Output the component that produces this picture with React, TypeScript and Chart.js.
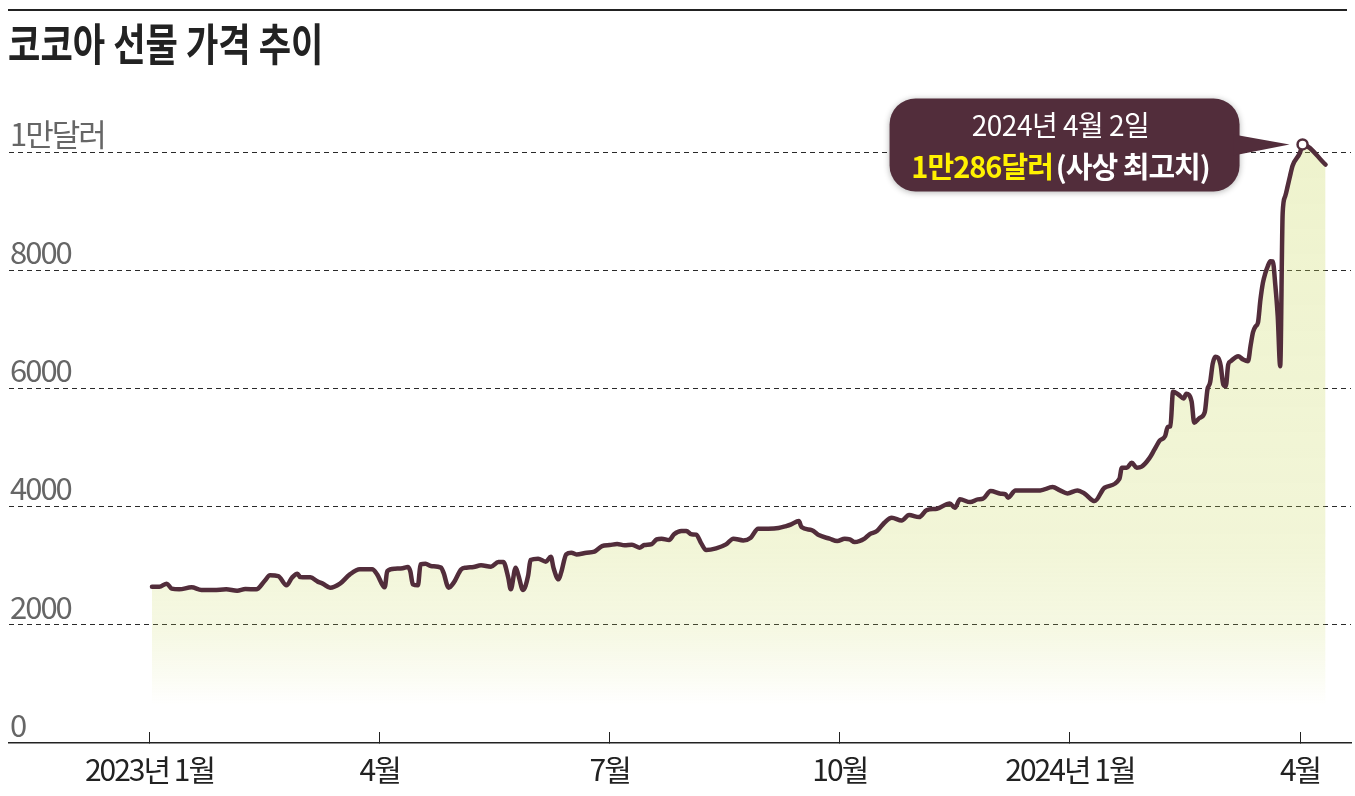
import React, { useEffect, useRef } from 'react';
import { Chart, registerables } from 'chart.js';

Chart.register(...registerables);

const title = '코코아 선물 가격 추이';

const dates = [
  '2023-01-02', '2023-01-05', '2023-01-08', '2023-01-10', '2023-01-13', '2023-01-18', '2023-01-22', '2023-01-27',
  '2023-02-01', '2023-02-05', '2023-02-08', '2023-02-12', '2023-02-15', '2023-02-17', '2023-02-20', '2023-02-23',
  '2023-02-25', '2023-02-27', '2023-02-28', '2023-03-04', '2023-03-07', '2023-03-09', '2023-03-12', '2023-03-16',
  '2023-03-20', '2023-03-24', '2023-03-29', '2023-03-31', '2023-04-03', '2023-04-04', '2023-04-07', '2023-04-10',
  '2023-04-12', '2023-04-13', '2023-04-14', '2023-04-16', '2023-04-17', '2023-04-19', '2023-04-21', '2023-04-25',
  '2023-04-26', '2023-04-28', '2023-04-30', '2023-05-03', '2023-05-05', '2023-05-08', '2023-05-11', '2023-05-15',
  '2023-05-18', '2023-05-20', '2023-05-22', '2023-05-23', '2023-05-25', '2023-05-26', '2023-05-28', '2023-05-30',
  '2023-05-31', '2023-06-03', '2023-06-06', '2023-06-08', '2023-06-09', '2023-06-11', '2023-06-12', '2023-06-14',
  '2023-06-16', '2023-06-18', '2023-06-22', '2023-06-25', '2023-06-28', '2023-07-01', '2023-07-04', '2023-07-07',
  '2023-07-10', '2023-07-13', '2023-07-15', '2023-07-18', '2023-07-20', '2023-07-22', '2023-07-25', '2023-07-27',
  '2023-07-30', '2023-08-01', '2023-08-03', '2023-08-05', '2023-08-07', '2023-08-09', '2023-08-13', '2023-08-17',
  '2023-08-20', '2023-08-24', '2023-08-27', '2023-08-30', '2023-09-03', '2023-09-07', '2023-09-10', '2023-09-12',
  '2023-09-15', '2023-09-16', '2023-09-20', '2023-09-23', '2023-09-27', '2023-09-30', '2023-10-03', '2023-10-05',
  '2023-10-07', '2023-10-11', '2023-10-13', '2023-10-16', '2023-10-19', '2023-10-22', '2023-10-26', '2023-10-29',
  '2023-11-02', '2023-11-05', '2023-11-09', '2023-11-14', '2023-11-16', '2023-11-18', '2023-11-22', '2023-11-25',
  '2023-11-27', '2023-11-30', '2023-12-04', '2023-12-06', '2023-12-07', '2023-12-10', '2023-12-13', '2023-12-20',
  '2023-12-25', '2023-12-28', '2023-12-31', '2024-01-04', '2024-01-07', '2024-01-11', '2024-01-15', '2024-01-21',
  '2024-01-22', '2024-01-24', '2024-01-26', '2024-01-28', '2024-01-30', '2024-02-02', '2024-02-04', '2024-02-06',
  '2024-02-08', '2024-02-09', '2024-02-10', '2024-02-11', '2024-02-13', '2024-02-15', '2024-02-16', '2024-02-18',
  '2024-02-19', '2024-02-21', '2024-02-23', '2024-02-24', '2024-02-25', '2024-02-26', '2024-02-27', '2024-02-28',
  '2024-02-29', '2024-03-01', '2024-03-02', '2024-03-03', '2024-03-04', '2024-03-07', '2024-03-09', '2024-03-11',
  '2024-03-12', '2024-03-13', '2024-03-14', '2024-03-15', '2024-03-16', '2024-03-17', '2024-03-18', '2024-03-19',
  '2024-03-20', '2024-03-21', '2024-03-22', '2024-03-23', '2024-03-24', '2024-03-25', '2024-03-26', '2024-03-27',
  '2024-03-28', '2024-03-29', '2024-04-01', '2024-04-02', '2024-04-11',
];

const prices = [
  2646, 2646, 2697, 2612, 2600, 2634, 2589, 2589,
  2600, 2578, 2605, 2600, 2741, 2837, 2825, 2668,
  2798, 2866, 2808, 2803, 2731, 2697, 2629, 2697,
  2854, 2939, 2939, 2854, 2634, 2910, 2950, 2956,
  2978, 2910, 2685, 2668, 3023, 3035, 2994, 2967,
  2883, 2629, 2714, 2939, 2967, 2978, 3006, 2984,
  3062, 3062, 2798, 2600, 2967, 2854, 2589, 2825,
  3096, 3120, 3069, 3153, 2967, 2770, 2883, 3192,
  3221, 3192, 3221, 3238, 3333, 3350, 3367, 3345,
  3356, 3306, 3350, 3367, 3446, 3458, 3434, 3531,
  3586, 3586, 3531, 3526, 3378, 3265, 3294, 3361,
  3458, 3429, 3475, 3627, 3627, 3637, 3671, 3700,
  3756, 3654, 3603, 3514, 3458, 3417, 3458, 3446,
  3400, 3458, 3531, 3586, 3728, 3813, 3767, 3857,
  3823, 3942, 3965, 4055, 3982, 4123, 4077, 4123,
  4134, 4263, 4219, 4207, 4151, 4275, 4275, 4275,
  4331, 4275, 4224, 4275, 4219, 4094, 4320, 4470,
  4660, 4659, 4743, 4659, 4676, 4816, 4968, 5120,
  5193, 5350, 5360, 5944, 5898, 5831, 5910, 5785,
  5420, 5500, 5600, 5980, 6100, 6420, 6536, 6519,
  6390, 6068, 6039, 6406, 6462, 6546, 6490, 6462,
  6715, 6950, 7050, 7111, 7500, 7788, 7950, 8070,
  8153, 8150, 7760, 7223, 6377, 8972, 9250, 9420,
  9600, 9770, 9990, 10130, 9788,
];

const xTickValues = [0, 3, 6, 9, 12, 15];
const xTickLabels = ['2023년 1월', '4월', '7월', '10월', '2024년 1월', '4월'];
const yTickValues = [0, 2000, 4000, 6000, 8000, 10000];
const yTickLabels = ['0', '2000', '4000', '6000', '8000', '1만달러'];

const peakDateLabel = '2024년 4월 2일';
const peakValueLabel = '1만286달러';
const peakNoteLabel = '(사상 최고치)';

const LINE = '#522d3b';
const FONT = '"Liberation Sans Narrow", "Noto Sans CJK KR", sans-serif';

function monthIndex(s: string): number {
  const [y, m, d] = s.split('-').map(Number);
  const dim = new Date(y, m, 0).getDate();
  return (y - 2023) * 12 + (m - 1) + (d - 1) / dim;
}

const points = dates.map((d, i) => ({ x: monthIndex(d), y: prices[i] }));
const peakIndex = prices.indexOf(Math.max(...prices));

const tightTextPlugin = {
  id: 'tightText',
  beforeDraw(chart: any) {
    chart.ctx.letterSpacing = '-2px';
  },
  afterDraw(chart: any) {
    chart.ctx.letterSpacing = '0px';
  },
};

const calloutPlugin = {
  id: 'callout',
  afterDatasetsDraw(chart: any) {
    const el = chart.getDatasetMeta(0).data[peakIndex];
    if (!el) return;
    const px = el.x;
    const py = el.y;
    const c = chart.ctx;
    c.save();
    const L = px - 413;
    const R = px - 63;
    const T = py - 46;
    const B = py + 47;
    c.fillStyle = LINE;
    c.shadowColor = 'rgba(0,0,0,0.3)';
    c.shadowBlur = 6;
    c.shadowOffsetY = 1;
    c.beginPath();
    c.roundRect(L, T, R - L, B - T, 26);
    c.fill();
    c.shadowColor = 'transparent';
    c.beginPath();
    c.moveTo(R - 6, py - 10);
    c.lineTo(px - 13, py);
    c.lineTo(R - 6, py + 11);
    c.closePath();
    c.fill();

    const cx = px - 242;
    c.textBaseline = 'middle';
    c.textAlign = 'center';
    c.fillStyle = '#ffffff';
    c.letterSpacing = '-0.5px';
    c.font = `28px ${FONT}`;
    c.fillText(peakDateLabel, cx, py - 19);

    c.letterSpacing = '-1px';
    c.font = `bold 29px ${FONT}`;
    const w1 = c.measureText(peakValueLabel).width;
    const w2 = c.measureText(peakNoteLabel).width;
    const gap = 3;
    const start = cx - (w1 + gap + w2) / 2;
    c.textAlign = 'left';
    c.fillStyle = '#fff200';
    c.fillText(peakValueLabel, start, py + 23);
    c.fillStyle = '#ffffff';
    c.fillText(peakNoteLabel, start + w1 + gap, py + 23);
    c.restore();
  },
};

export default function App() {
  const canvasRef = useRef<HTMLCanvasElement | null>(null);

  useEffect(() => {
    const canvas = canvasRef.current;
    if (!canvas) return;
    const chart = new Chart(canvas, {
      type: 'line',
      data: {
        datasets: [
          {
            data: points,
            borderColor: LINE,
            borderWidth: 4.5,
            borderCapStyle: 'round',
            borderJoinStyle: 'round',
            cubicInterpolationMode: 'monotone',
            fill: 'origin',
            backgroundColor: (ctx: any) => {
              const c = ctx.chart.ctx;
              const g = c.createLinearGradient(0, 140, 0, 705);
              g.addColorStop(0, 'rgba(200,215,90,0.30)');
              g.addColorStop(0.72, 'rgba(200,215,90,0.24)');
              g.addColorStop(0.87, 'rgba(200,215,90,0.17)');
              g.addColorStop(0.95, 'rgba(200,215,90,0.07)');
              g.addColorStop(1, 'rgba(200,215,90,0)');
              return g;
            },
            pointRadius: (ctx: any) => (ctx.dataIndex === peakIndex ? 5 : 0),
            pointHoverRadius: 0,
            pointBackgroundColor: '#ffffff',
            pointBorderColor: LINE,
            pointBorderWidth: 2.5,
          },
        ],
      },
      options: {
        animation: false,
        responsive: false,
        parsing: false as any,
        layout: { padding: { left: 9, right: 4, top: 93, bottom: 0 } },
        plugins: {
          legend: { display: false },
          tooltip: { enabled: false },
        },
        scales: {
          x: {
            type: 'linear',
            min: (9 - 149.5) / 76.7,
            max: (1351 - 149.5) / 76.7,
            afterFit: (scale: any) => {
              scale.height = 53;
            },
            afterBuildTicks: (scale: any) => {
              scale.ticks = xTickValues.map((v) => ({ value: v }));
            },
            grid: {
              display: true,
              drawOnChartArea: false,
              drawTicks: true,
              tickLength: -11,
              color: '#222',
              lineWidth: 1,
            },
            border: { display: true, color: '#222', width: 1.5 },
            ticks: {
              autoSkip: false,
              maxRotation: 0,
              padding: 20,
              color: '#222',
              font: { family: FONT, size: 30 },
              callback: (_v: any, i: number) => xTickLabels[i],
            },
          },
          y: {
            type: 'linear',
            min: 0,
            max: 11000,
            afterFit: (scale: any) => {
              scale.width = 0;
            },
            afterBuildTicks: (scale: any) => {
              scale.ticks = yTickValues.map((v) => ({ value: v }));
            },
            grid: {
              display: true,
              drawTicks: false,
              color: (ctx: any) => (ctx.tick && ctx.tick.value === 0 ? 'rgba(0,0,0,0)' : '#2a2a2a'),
              lineWidth: 1,
            },
            border: { display: false, dash: [5, 4] },
            ticks: {
              mirror: true,
              padding: 1,
              labelOffset: -18,
              color: '#666',
              font: { family: FONT, size: 31 },
              callback: (_v: any, i: number) => yTickLabels[i],
            },
          },
        },
      },
      plugins: [tightTextPlugin, calloutPlugin],
    } as any);
    return () => chart.destroy();
  }, []);

  return (
    <div style={{ position: 'absolute', left: 0, top: 0, width: 1355, height: 796, background: '#fff' }}>
      <canvas ref={canvasRef} width={1355} height={796} style={{ position: 'absolute', left: 0, top: 0 }} />
      <div style={{ position: 'absolute', left: 8, top: 9, width: 1339, height: 2, background: '#222' }} />
      <div
        style={{
          position: 'absolute',
          left: 8,
          top: 20,
          fontFamily: '"Noto Sans CJK KR", sans-serif',
          fontWeight: 700,
          fontSize: 44,
          lineHeight: '44px',
          color: '#222',
          whiteSpace: 'nowrap',
          transform: 'scaleX(0.8)',
          transformOrigin: 'left top',
        }}
      >
        {title}
      </div>
    </div>
  );
}
